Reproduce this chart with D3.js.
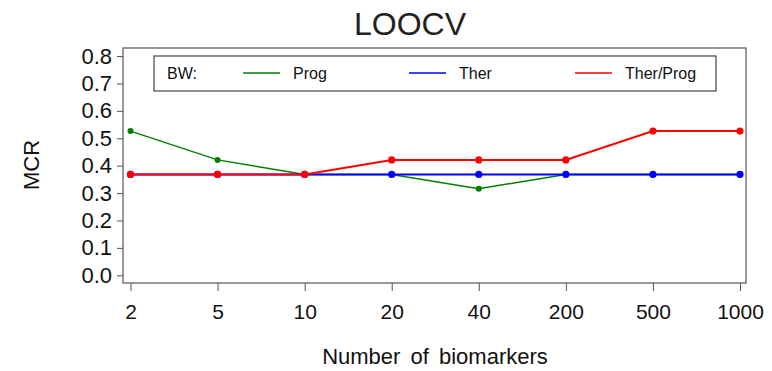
<!DOCTYPE html>
<html><head><meta charset="utf-8">
<script src="https://cdn.jsdelivr.net/npm/d3@7"></script>
<style>body{margin:0;background:#fff}svg{display:block;font-family:"Liberation Sans",Arial,sans-serif}</style>
</head><body><svg id="c" width="772" height="371"></svg>
<script>
const categories = ["2","5","10","20","40","200","500","1000"];
const prog = [0.526,0.421,0.368,0.368,0.316,0.368,0.368,0.368];
const ther = [0.368,0.368,0.368,0.368,0.368,0.368,0.368,0.368];
const therProg = [0.368,0.368,0.368,0.421,0.421,0.421,0.526,0.526];
const yTicks = [0,0.1,0.2,0.3,0.4,0.5,0.6,0.7,0.8];
const seriesNames = ["Prog","Ther","Ther/Prog"];
const seriesColors = ["#008000","#0000ff","#ff0000"];

const svg = d3.select("#c");
const box = {l:123, r:746, t:48, b:283};
const x = d3.scalePoint().domain(categories).range([130.5,740]);
const y = d3.scaleLinear().domain([0,0.8]).range([275.3,56]);

// frame
svg.append("rect").attr("x",box.l).attr("y",box.t).attr("width",box.r-box.l).attr("height",box.b-box.t)
  .attr("fill","none").attr("stroke","#555").attr("stroke-width",1.2);

// y axis
const ya = svg.append("g").attr("transform",`translate(${box.l},0)`)
  .call(d3.axisLeft(y).tickValues(yTicks).tickFormat(d3.format(".1f")).tickSize(6).tickPadding(5));
ya.select(".domain").remove();
ya.selectAll("line").attr("stroke","#555");
ya.selectAll("text").attr("font-size",22).attr("fill","#111").attr("font-family","Liberation Sans, Arial");

// x axis
const xa = svg.append("g").attr("transform",`translate(0,${box.b})`)
  .call(d3.axisBottom(x).tickSize(8).tickPadding(13));
xa.select(".domain").remove();
xa.selectAll("line").attr("stroke","#555");
xa.selectAll("text").attr("font-size",21).attr("fill","#111").attr("font-family","Liberation Sans, Arial");

// titles
svg.append("text").attr("x",410).attr("y",35).attr("text-anchor","middle").attr("font-size",32).attr("fill","#222").text("LOOCV");
svg.append("text").attr("transform","translate(39,165) rotate(-90)").attr("text-anchor","middle").attr("font-size",22).attr("fill","#111").text("MCR");
svg.append("text").attr("x",435).attr("y",364).attr("text-anchor","middle").attr("font-size",22).attr("fill","#111").attr("word-spacing",4).text("Number of biomarkers");

// series
const data = [prog, ther, therProg];
const widths = [1.5,2,2];
const radii = [3,3.6,3.6];
data.forEach((vals,i)=>{
  const g = svg.append("g");
  g.append("path").datum(vals)
    .attr("d", d3.line().x((d,j)=>x(categories[j])).y(d=>y(d)))
    .attr("fill","none").attr("stroke",seriesColors[i]).attr("stroke-width",widths[i]);
  g.selectAll("circle").data(vals).join("circle")
    .attr("cx",(d,j)=>x(categories[j])).attr("cy",d=>y(d)).attr("r",radii[i]).attr("fill",seriesColors[i]);
});

// legend
const lg = svg.append("g");
lg.append("rect").attr("x",154).attr("y",56).attr("width",562).attr("height",35)
  .attr("fill","#fff").attr("stroke","#444").attr("stroke-width",1.2);
lg.append("text").attr("x",167).attr("y",79).attr("font-size",16).attr("fill","#111").text("BW:");
const lineX = [243,409,575];
seriesNames.forEach((n,i)=>{
  lg.append("line").attr("x1",lineX[i]).attr("x2",lineX[i]+37).attr("y1",73).attr("y2",73)
    .attr("stroke",seriesColors[i]).attr("stroke-width",1.5);
  lg.append("text").attr("x",lineX[i]+50).attr("y",79).attr("font-size",16).attr("fill","#111").text(n);
});
</script></body></html>
